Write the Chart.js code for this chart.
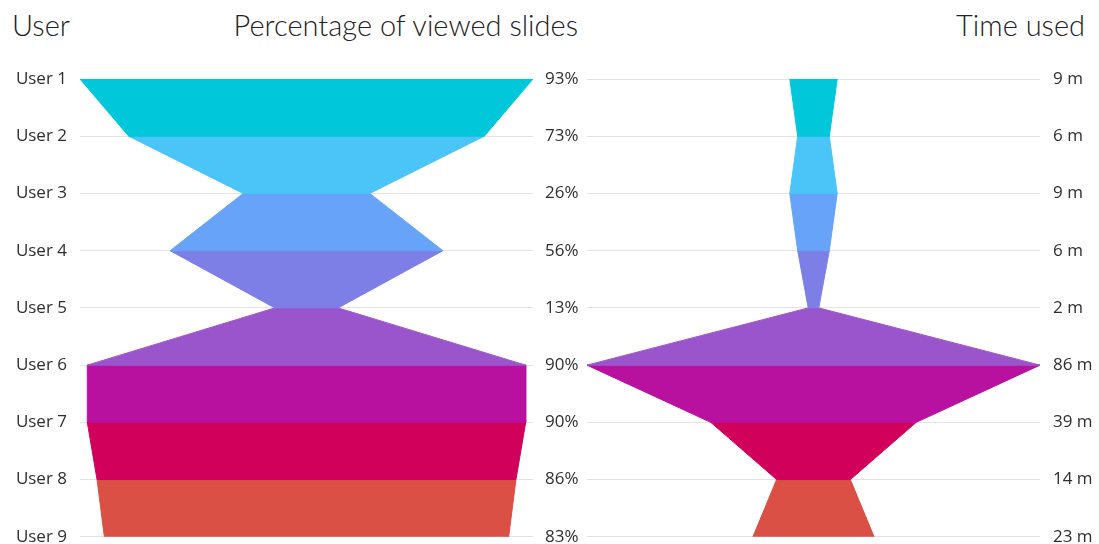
<!DOCTYPE html>
<html lang="en">
<head>
  <meta charset="UTF-8" />
  <title>User funnel</title>
  <script src="https://cdn.jsdelivr.net/npm/chart.js"></script>
  <style>
    body { margin: 0; background: #fff; }
    #wrap { position: relative; width: 1099px; height: 544px; overflow: hidden; }
    canvas { position: absolute; top: 0; }
    .title { position: absolute; top: 7px; font-family: Lato, sans-serif; font-weight: 300; font-size: 29px; color: #222; white-space: nowrap; }
  </style>
</head>
<body>
  <div id="wrap">
    <div class="title" style="left: 12px;">User</div>
    <div class="title" style="right: 521px;">Percentage of viewed slides</div>
    <div class="title" style="right: 14px;">Time used</div>
    <canvas id="leftChart" width="587" height="560" style="left: 0;"></canvas>
    <canvas id="rightChart" width="512" height="560" style="left: 587px;"></canvas>
  </div>

  <script>
    const users = ['User 1', 'User 2', 'User 3', 'User 4', 'User 5', 'User 6', 'User 7', 'User 8', 'User 9'];
    const viewed = [93, 73, 26, 56, 13, 90, 90, 86, 83];
    const timeUsed = [9, 6, 9, 6, 2, 86, 39, 14, 23];
    const bandColors = ['#00c8da', '#4bc4f7', '#66a3f9', '#7e7fe6', '#9b55cc', '#b9119f', '#d1005a', '#db5044'];

    const tickFont = { family: "'Open Sans', sans-serif", size: 17 };
    const tickColor = '#2e2e2e';

    // one closed shape per pair of neighbouring users
    function bands(values) {
      const out = [];
      for (let i = 0; i < values.length - 1; i++) {
        const a = values[i] / 2, b = values[i + 1] / 2;
        out.push({
          data: [
            { x: -a, y: i + 1 }, { x: a, y: i + 1 },
            { x: b, y: i + 2 }, { x: -b, y: i + 2 }, { x: -a, y: i + 1 }
          ],
          showLine: true,
          fill: 'shape',
          backgroundColor: bandColors[i],
          borderColor: bandColors[i],
          borderWidth: 1,
          pointRadius: 0,
          tension: 0
        });
      }
      return out;
    }

    function yAxis(position, width, padding, label, showGrid) {
      return {
        type: 'linear',
        position: position,
        reverse: true,
        min: 1,
        max: 9,
        afterFit: (scale) => { scale.width = width; },
        border: { display: false },
        grid: { display: showGrid, color: '#e3e3e3', lineWidth: 1, drawTicks: false },
        ticks: {
          stepSize: 1,
          padding: padding,
          font: tickFont,
          color: tickColor,
          callback: (v) => label(v - 1)
        }
      };
    }

    const common = {
      responsive: false,
      animation: false,
      layout: { padding: { top: 79, bottom: 9, left: 0, right: 0 } },
      plugins: { legend: { display: false }, tooltip: { enabled: false } }
    };

    const maxViewed = Math.max(...viewed);
    new Chart(document.getElementById('leftChart'), {
      type: 'scatter',
      data: { datasets: bands(viewed) },
      options: {
        ...common,
        scales: {
          x: { type: 'linear', display: false, min: -maxViewed / 2, max: maxViewed / 2 },
          y: yAxis('left', 80, 13, (i) => users[i], true),
          y2: yAxis('right', 54, 12, (i) => viewed[i] + '%', false)
        }
      }
    });

    const maxTime = Math.max(...timeUsed);
    new Chart(document.getElementById('rightChart'), {
      type: 'scatter',
      data: { datasets: bands(timeUsed) },
      options: {
        ...common,
        scales: {
          x: { type: 'linear', display: false, min: -maxTime / 2, max: maxTime / 2 },
          y: yAxis('right', 59, 13, (i) => timeUsed[i] + ' m', true)
        }
      }
    });
  </script>
</body>
</html>
